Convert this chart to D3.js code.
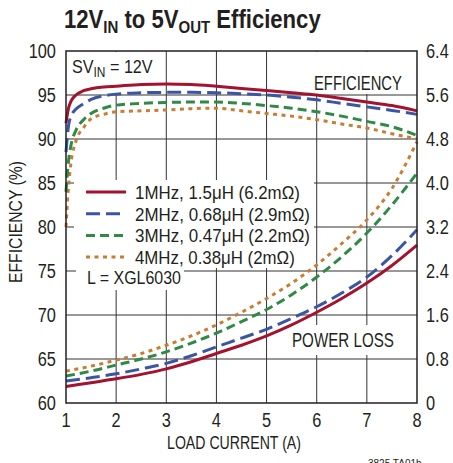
<!DOCTYPE html>
<html><head><meta charset="utf-8">
<script src="https://cdn.jsdelivr.net/npm/d3@7/dist/d3.min.js"></script>
<style>
body{margin:0;background:#fff;}
text{font-family:"Liberation Sans",Arial,"Helvetica",sans-serif;fill:#231f20;}
</style></head>
<body><svg id="c" width="453" height="463"></svg>
<script>
const loadEff = [1, 1.05, 1.1, 1.2, 1.35, 1.5, 1.75, 2, 2.5, 3, 3.5, 4, 4.5, 5, 5.5, 6, 6.5, 7, 7.5, 8];
const eff1MHz = [91.8, 93.5, 94.3, 95.0, 95.5, 95.7, 95.9, 96.0, 96.2, 96.25, 96.2, 96.0, 95.75, 95.5, 95.25, 95.0, 94.6, 94.2, 93.8, 93.2];
const eff2MHz = [88.5, 91.5, 92.6, 93.4, 94.0, 94.5, 94.9, 95.1, 95.25, 95.3, 95.3, 95.25, 95.15, 95.0, 94.75, 94.45, 94.05, 93.65, 93.25, 92.8];
const eff3MHz = [84, 87.5, 89.3, 91.0, 92.2, 92.9, 93.5, 93.85, 94.05, 94.15, 94.2, 94.2, 94.05, 93.8, 93.5, 93.1, 92.6, 92.0, 91.4, 90.4];
const eff4MHz = [80, 84.5, 87.3, 89.8, 91.3, 92.3, 92.8, 93.1, 93.2, 93.3, 93.45, 93.5, 93.2, 92.9, 92.6, 92.2, 91.7, 91.25, 90.6, 90.0];

const loadLoss = [1, 1.5, 2, 2.5, 3, 3.5, 4, 4.5, 5, 5.5, 6, 6.5, 7, 7.5, 8];
const loss1MHz = [0.30, 0.37, 0.44, 0.52, 0.62, 0.75, 0.90, 1.05, 1.22, 1.42, 1.65, 1.90, 2.18, 2.50, 2.87];
const loss2MHz = [0.40, 0.46, 0.53, 0.62, 0.72, 0.86, 1.02, 1.18, 1.34, 1.54, 1.75, 2.00, 2.29, 2.68, 3.15];
const loss3MHz = [0.49, 0.58, 0.69, 0.80, 0.93, 1.09, 1.27, 1.48, 1.70, 1.97, 2.29, 2.66, 3.09, 3.60, 4.18];
const loss4MHz = [0.58, 0.67, 0.78, 0.90, 1.05, 1.22, 1.42, 1.65, 1.90, 2.18, 2.51, 2.90, 3.33, 3.90, 4.75];

const seriesNames = ["1MHz, 1.5μH (6.2mΩ)", "2MHz, 0.68μH (2.9mΩ)", "3MHz, 0.47μH (2.2mΩ)", "4MHz, 0.38μH (2mΩ)"];
const xTicks = [1, 2, 3, 4, 5, 6, 7, 8];
const yTicks = [60, 65, 70, 75, 80, 85, 90, 95, 100];
const y2Ticks = ["0", "0.8", "1.6", "2.4", "3.2", "4.0", "4.8", "5.6", "6.4"];

const colors = ["#a3132f", "#3b55a5", "#2f8a46", "#c97d32"];
const dashes = [null, "14,6", "9,5", "4,4.5"];

const svg = d3.select("#c");
const L = 66, R = 417, T = 51, B = 403;
const x = d3.scaleLinear().domain([1, 8]).range([L, R]);
const y = d3.scaleLinear().domain([60, 100]).range([B, T]);
const y2 = d3.scaleLinear().domain([0, 6.4]).range([B, T]);

// horizontal squeeze helper (condensed look)
function squeeze(sel, sx, width) {
  sel.each(function () {
    const n = this;
    const x0 = +n.getAttribute("x");
    let s = sx;
    if (width) s = width / n.getBBox().width;
    n.setAttribute("transform", `translate(${x0},0) scale(${s},1) translate(${-x0},0)`);
  });
}

// grid
const g = svg.append("g");
g.selectAll(".vx").data(xTicks.slice(1, -1)).enter().append("line")
  .attr("x1", d => x(d)).attr("x2", d => x(d)).attr("y1", T).attr("y2", B)
  .attr("stroke", "#333").attr("stroke-width", 1);
g.selectAll(".hy").data(yTicks.slice(1, -1)).enter().append("line")
  .attr("x1", L).attr("x2", R).attr("y1", d => y(d)).attr("y2", d => y(d))
  .attr("stroke", "#333").attr("stroke-width", 1);

// white label boxes covering grid
const boxes = [[L + 1, T + 1, 90, 42], [307, T + 1, 100, 42], [286, 325, 114, 30], [74, 180, 240, 88], [76, 266, 108, 24]];
svg.selectAll(".bx").data(boxes).enter().append("rect")
  .attr("x", d => d[0]).attr("y", d => d[1]).attr("width", d => d[2]).attr("height", d => d[3])
  .attr("fill", "#fff");

// curves
const effSeries = [eff1MHz, eff2MHz, eff3MHz, eff4MHz];
const lossSeries = [loss1MHz, loss2MHz, loss3MHz, loss4MHz];
const lineE = d3.line().x(d => x(d[0])).y(d => y(d[1])).curve(d3.curveMonotoneX);
const lineL = d3.line().x(d => x(d[0])).y(d => y2(d[1])).curve(d3.curveMonotoneX);
const cg = svg.append("g");
[3, 2, 1, 0].forEach(i => {
  cg.append("path").attr("d", lineL(loadLoss.map((v, j) => [v, lossSeries[i][j]])))
    .attr("fill", "none").attr("stroke", colors[i]).attr("stroke-width", 3)
    .attr("stroke-dasharray", dashes[i]);
  cg.append("path").attr("d", lineE(loadEff.map((v, j) => [v, effSeries[i][j]])))
    .attr("fill", "none").attr("stroke", colors[i]).attr("stroke-width", 3)
    .attr("stroke-dasharray", dashes[i]);
});

// frame
svg.append("rect").attr("x", L).attr("y", T).attr("width", R - L).attr("height", B - T)
  .attr("fill", "none").attr("stroke", "#231f20").attr("stroke-width", 1.5);

// axes labels
const TS = 0.84;
squeeze(svg.selectAll(".yt").data(yTicks).enter().append("text")
  .attr("x", 56).attr("y", d => y(d) + 7).attr("text-anchor", "end")
  .attr("font-size", 19.5).text(d => d), TS);
squeeze(svg.selectAll(".y2t").data(y2Ticks).enter().append("text")
  .attr("x", 426).attr("y", (d, i) => y(yTicks[i]) + 7)
  .attr("font-size", 19.5).text(d => d), TS);
squeeze(svg.selectAll(".xt").data(xTicks).enter().append("text")
  .attr("x", d => x(d)).attr("y", 427).attr("text-anchor", "middle")
  .attr("font-size", 19.5).text(d => d), TS);

squeeze(svg.append("text").attr("x", 234).attr("y", 449).attr("text-anchor", "middle")
  .attr("font-size", 18.5).text("LOAD CURRENT (A)"), null, 134);
const yl = svg.append("text").attr("x", 0).attr("y", 0).attr("text-anchor", "middle")
  .attr("font-size", 18.5).text("EFFICIENCY (%)");
const ylw = yl.node().getBBox().width;
yl.attr("transform", `translate(22,222) rotate(-90) scale(${122 / ylw},1)`);

// title
const tt = svg.append("text").attr("x", 64).attr("y", 28).attr("font-size", 25).attr("font-weight", "bold");
tt.append("tspan").text("12V");
tt.append("tspan").attr("font-size", 17).attr("dy", 5).text("IN");
tt.append("tspan").attr("dy", -5).text(" to 5V");
tt.append("tspan").attr("font-size", 17).attr("dy", 5).text("OUT");
tt.append("tspan").attr("dy", -5).text(" Efficiency");
squeeze(tt, null, 257);

// in-plot labels
const sv = svg.append("text").attr("x", 72).attr("y", 73).attr("font-size", 19);
sv.append("tspan").text("SV");
sv.append("tspan").attr("font-size", 14).attr("dy", 4).text("IN");
sv.append("tspan").attr("dy", -4).text(" = 12V");
squeeze(sv, null, 81);
squeeze(svg.append("text").attr("x", 314).attr("y", 90).attr("font-size", 19.5).text("EFFICIENCY"), null, 88);
squeeze(svg.append("text").attr("x", 292).attr("y", 347).attr("font-size", 19.5).text("POWER LOSS"), null, 102);

// legend
const legW = [165, 175, 175, 160];
seriesNames.forEach((n, i) => {
  const yy = 192 + i * 21.7;
  svg.append("line").attr("x1", 86).attr("x2", 126).attr("y1", yy).attr("y2", yy)
    .attr("stroke", colors[i]).attr("stroke-width", 3).attr("stroke-dasharray", dashes[i]);
  squeeze(svg.append("text").attr("x", 135).attr("y", yy + 7).attr("font-size", 19).text(n), null, legW[i]);
});
squeeze(svg.append("text").attr("x", 87).attr("y", 284).attr("font-size", 19).text("L = XGL6030"), null, 94);

svg.append("text").attr("x", 368).attr("y", 467).attr("font-size", 10).text("3825 TA01b");
</script></body></html>
